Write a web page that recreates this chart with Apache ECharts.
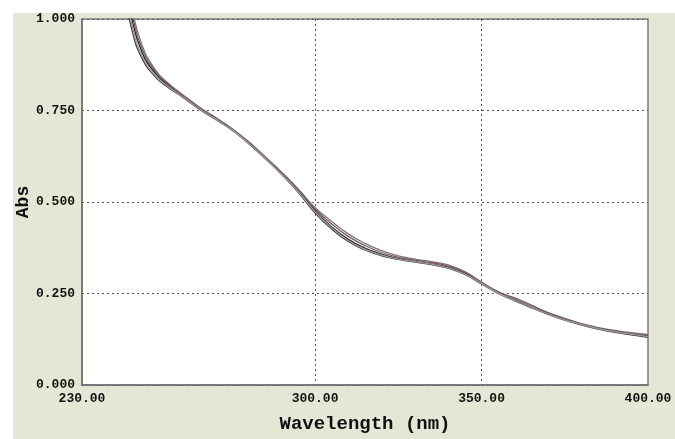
<!DOCTYPE html>
<html>
<head>
<meta charset="utf-8">
<script src="https://cdn.jsdelivr.net/npm/echarts@6/dist/echarts.min.js"></script>
<style>
  html, body { margin: 0; padding: 0; background: #fff; }
  #chart { width: 675px; height: 439px; }
</style>
</head>
<body>
<div id="chart"></div>
<script>
// wavelength (nm) of each sample
const wavelengths = [242, 245, 248, 252, 256, 260, 265, 270, 275, 280, 285, 290, 295, 300, 305, 310, 315, 320, 325, 330, 335, 340, 345, 350, 355, 360, 365, 370, 375, 380, 385, 390, 395, 400]

// absorbance of the overlaid scans
const scan1 = [1.150, 1.000, 0.910, 0.852, 0.818, 0.791, 0.757, 0.728, 0.698, 0.662, 0.622, 0.578, 0.530, 0.476, 0.432, 0.398, 0.374, 0.357, 0.345, 0.338, 0.331, 0.322, 0.305, 0.278, 0.252, 0.232, 0.213, 0.195, 0.179, 0.166, 0.155, 0.146, 0.140, 0.134]
const scan2 = [1.180, 1.030, 0.930, 0.862, 0.824, 0.795, 0.761, 0.732, 0.701, 0.664, 0.624, 0.581, 0.535, 0.485, 0.447, 0.413, 0.387, 0.367, 0.353, 0.344, 0.337, 0.328, 0.310, 0.281, 0.255, 0.235, 0.215, 0.197, 0.181, 0.168, 0.157, 0.149, 0.143, 0.138]
const scan3 = [1.110, 0.970, 0.893, 0.842, 0.812, 0.788, 0.755, 0.726, 0.697, 0.660, 0.619, 0.575, 0.526, 0.470, 0.426, 0.392, 0.369, 0.353, 0.343, 0.336, 0.329, 0.319, 0.302, 0.276, 0.250, 0.230, 0.211, 0.193, 0.177, 0.164, 0.153, 0.144, 0.137, 0.130]
const scan4 = [1.165, 1.015, 0.920, 0.857, 0.821, 0.793, 0.759, 0.730, 0.700, 0.665, 0.623, 0.580, 0.533, 0.481, 0.440, 0.406, 0.381, 0.362, 0.349, 0.341, 0.334, 0.325, 0.308, 0.280, 0.254, 0.238, 0.218, 0.198, 0.182, 0.167, 0.156, 0.147, 0.141, 0.136]
const scan5 = [1.130, 0.985, 0.900, 0.846, 0.815, 0.789, 0.756, 0.727, 0.697, 0.661, 0.620, 0.576, 0.528, 0.473, 0.429, 0.395, 0.371, 0.355, 0.344, 0.337, 0.330, 0.320, 0.303, 0.277, 0.251, 0.231, 0.212, 0.194, 0.178, 0.165, 0.154, 0.145, 0.139, 0.132]

const scans = [scan1, scan2, scan3, scan4, scan5]
const lineColors = ['#1e1e1e', '#7a7a7a', '#404040', '#7d5a5a', '#9a9a9a']

const xLabelValues = [230, 300, 350, 400]
const xGridValues = [300, 350]

const monoFont = '"Liberation Mono", "DejaVu Sans Mono", monospace'

const chart = echarts.init(document.getElementById('chart'))

chart.setOption({
  animation: false,
  graphic: [{
    type: 'rect',
    z: -10,
    shape: { x: 13, y: 13, width: 662, height: 426 },
    style: { fill: '#E5E6D5' }
  }],
  grid: {
    left: 82,
    top: 19,
    right: 27,
    bottom: 49,
    show: true,
    backgroundColor: '#ffffff',
    borderColor: '#7f7f7f',
    borderWidth: 1.5
  },
  xAxis: {
    type: 'value',
    min: 230,
    max: 400,
    name: 'Wavelength (nm)',
    nameLocation: 'middle',
    nameGap: 30,
    nameMoveOverlap: false,
    nameTextStyle: {
      fontFamily: monoFont,
      fontWeight: 'bold',
      fontSize: 19,
      color: '#111'
    },
    axisLine: { show: true, lineStyle: { color: '#6f6f6f', width: 1.5 } },
    axisTick: { show: false, customValues: xGridValues },
    axisLabel: {
      customValues: xLabelValues,
      margin: 7,
      fontFamily: monoFont,
      fontWeight: 'bold',
      fontSize: 13,
      color: '#111',
      formatter: v => v.toFixed(2)
    },
    splitLine: {
      show: true,
      lineStyle: { color: '#555', type: [2, 3], width: 1 }
    }
  },
  yAxis: {
    type: 'value',
    min: 0,
    max: 1,
    interval: 0.25,
    name: 'Abs',
    nameLocation: 'middle',
    nameRotate: 90,
    nameGap: 50,
    nameMoveOverlap: false,
    nameTextStyle: {
      fontFamily: monoFont,
      fontWeight: 'bold',
      fontSize: 18,
      color: '#111'
    },
    axisLine: { show: true, lineStyle: { color: '#6f6f6f', width: 1.5 } },
    axisTick: { show: false },
    axisLabel: {
      margin: 7,
      fontFamily: monoFont,
      fontWeight: 'bold',
      fontSize: 13,
      color: '#111',
      formatter: v => v.toFixed(3)
    },
    splitLine: {
      show: true,
      lineStyle: { color: '#555', type: [2, 3], width: 1 }
    }
  },
  series: scans.map((scan, i) => ({
    type: 'line',
    smooth: true,
    showSymbol: false,
    clip: true,
    data: wavelengths.map((w, j) => [w, scan[j]]),
    lineStyle: { color: lineColors[i], width: 1.3 }
  }))
})
</script>
</body>
</html>
